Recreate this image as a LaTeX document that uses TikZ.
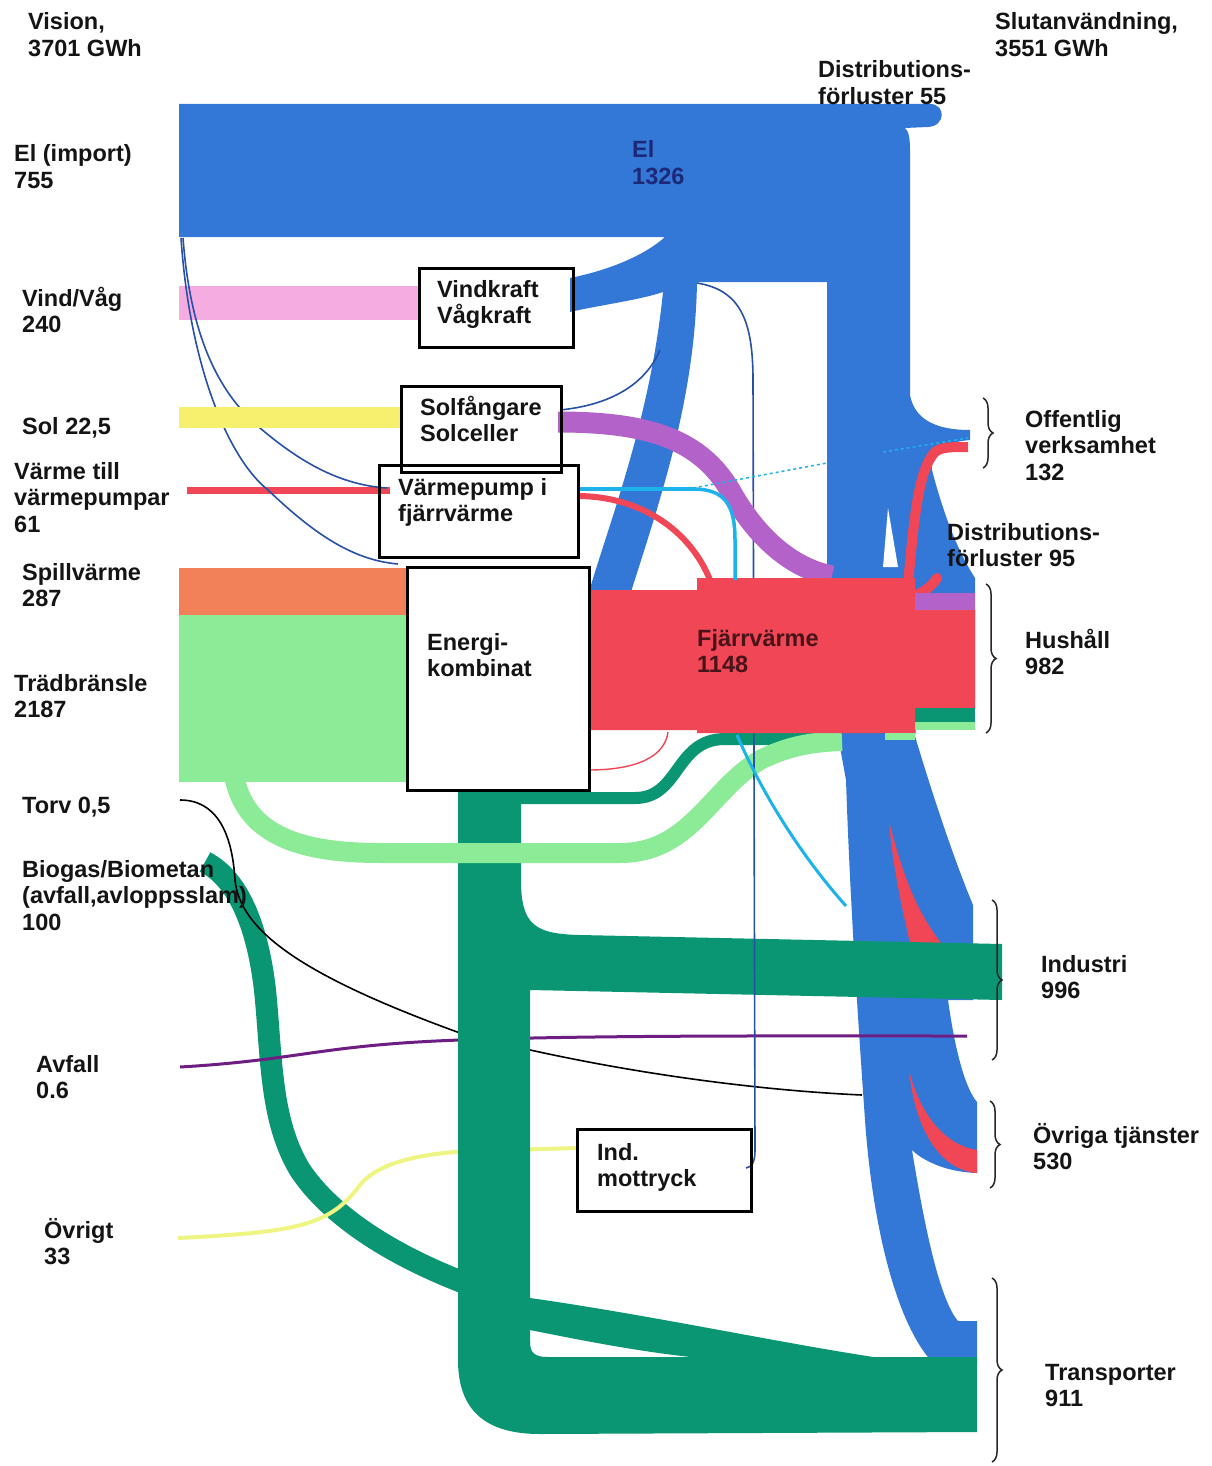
\documentclass[tikz,border=0pt]{standalone}
\usepackage{fontspec}
\setmainfont{Liberation Sans}
\usetikzlibrary{decorations.pathreplacing}

\definecolor{elblue}{RGB}{52,120,215}
\definecolor{pinkc}{RGB}{245,172,225}
\definecolor{yellowc}{RGB}{245,240,110}
\definecolor{orangec}{RGB}{242,128,88}
\definecolor{lgreen}{RGB}{140,235,150}
\definecolor{dgreen}{RGB}{10,150,115}
\definecolor{redc}{RGB}{240,70,85}
\definecolor{purplec}{RGB}{178,98,200}
\definecolor{cyanc}{RGB}{30,178,235}
\definecolor{darkline}{RGB}{40,80,165}
\definecolor{paleyellow}{RGB}{238,245,130}
\definecolor{avfallc}{RGB}{110,30,130}
\definecolor{eltext}{RGB}{30,40,120}
\definecolor{fjvtext}{RGB}{70,20,25}

% multi-line label whose baseline is the first line
\newcommand{\stack}[1]{\vtop{\baselineskip=26.5pt\halign{##\hfil\cr#1\crcr}}}

\tikzset{
  lbl/.style={anchor=base west, inner sep=0pt, font=\bfseries\fontsize{23.5}{26.5}\selectfont, text=black!92},
  boxn/.style={draw=black, line width=2.5pt, inner sep=0pt, anchor=north west},
  thinflow/.style={line width=1.6pt},
  curly/.style={decorate, decoration={brace, amplitude=10pt}, line width=1.5pt, black!85},
}

\begin{document}
\begin{tikzpicture}[x=1pt,y=-1pt]
\useasboundingbox (0,0) rectangle (1211,1466);
\fill[white] (0,0) rectangle (1211,1466);

% ---- source bars
\fill[pinkc] (179,286) rectangle (418,320);
\fill[orangec] (179,568) rectangle (406,615);
\fill[lgreen] (179,615) rectangle (406,782);
\draw[redc, line width=7pt] (187,490) -- (390,490);

% thin electricity lines from the import bar
\draw[darkline, thinflow] (183,238) .. controls (190,330) and (215,390) .. (260,428) .. controls (300,462) and (340,485) .. (387,488);
\draw[darkline, thinflow] (181,238) .. controls (190,370) and (230,460) .. (268,490) .. controls (310,530) and (350,560) .. (398,564);
\fill[yellowc] (179,407) rectangle (402,428);

% ---- electricity: import bar, trunk, wind inflow and branch to the CHP plant
\fill[elblue] (179,104) -- (930,104) .. controls (946,104) and (946,126) .. (928,127) -- (905,128)
  .. controls (909,131) and (910,140) .. (910,150) -- (910,395)
  .. controls (915,422) and (940,430) .. (970,430) -- (970,440)
  .. controls (945,442) and (930,452) .. (932,470)
  .. controls (945,520) and (960,555) .. (975,578) -- (975,700) -- (827,700) -- (827,282) -- (697,282)
  .. controls (695,400) and (660,500) .. (630,595) -- (588,595)
  .. controls (610,520) and (650,420) .. (663,292)
  .. controls (640,300) and (600,305) .. (570,312) -- (570,278)
  .. controls (610,270) and (645,255) .. (665,237) -- (179,237) -- cycle;
\fill[white] (888,508) -- (898,567) -- (883,567) -- cycle;

% lower trunk towards industry, services and transport
\fill[elblue] (838,700) -- (920,700) -- (915,736) .. controls (925,770) and (950,850) .. (973,905)
  -- (973,1000) -- (948,1000) .. controls (955,1050) and (965,1088) .. (977,1102) -- (977,1173)
  .. controls (945,1172) and (922,1160) .. (912,1150)
  .. controls (925,1230) and (940,1300) .. (958,1321) -- (977,1321) -- (977,1365) -- (935,1365)
  .. controls (895,1325) and (872,1220) .. (865,1120)
  .. controls (858,1020) and (850,900) .. (846,780) -- (838,736) -- cycle;

% district heat inside the electricity trunk
\fill[redc] (889,821) .. controls (905,885) and (920,915) .. (941,943) -- (910,943) .. controls (900,900) and (892,860) .. (889,821) -- cycle;
\fill[redc] (909,1070) .. controls (920,1115) and (945,1145) .. (977,1150) -- (977,1173) .. controls (940,1170) and (915,1130) .. (909,1070) -- cycle;

% ---- biogas band
\draw[dgreen, line width=22pt] (205,862) .. controls (240,880) and (258,930) .. (265,990) .. controls (272,1060) and (270,1120) .. (300,1170) .. controls (330,1215) and (390,1255) .. (470,1285);

% peat, waste and other
\draw[black, thinflow] (180,800) .. controls (215,800) and (232,830) .. (235,880) .. controls (240,930) and (300,975) .. (460,1033) .. controls (600,1070) and (750,1090) .. (862,1095);
\draw[avfallc, line width=3pt] (180,1067) .. controls (300,1060) and (320,1045) .. (460,1040) .. controls (600,1035) and (800,1036) .. (967,1036);
\draw[paleyellow, line width=4pt] (178,1238) .. controls (300,1232) and (330,1225) .. (360,1185) .. controls (380,1160) and (430,1153) .. (470,1151) -- (576,1148);

% ---- fuels: trunk with industry and transport arms
\fill[dgreen] (458,790) -- (521,790) -- (521,880) .. controls (521,925) and (535,934) .. (580,935)
  -- (1002,944) -- (1002,1000) -- (530,990) -- (530,1357) -- (977,1357) -- (977,1432) -- (540,1434)
  .. controls (485,1434) and (458,1410) .. (458,1360) -- cycle;
\fill[dgreen] (530,1298) .. controls (650,1315) and (780,1343) .. (880,1358) -- (700,1358) .. controls (640,1352) and (580,1340) .. (530,1330) -- cycle;
\fill[dgreen] (530,1342) .. controls (530,1353) and (535,1357) .. (548,1357) -- (530,1357) -- cycle;
\draw[dgreen, line width=12pt] (515,798) -- (635,798) .. controls (680,798) and (675,739) .. (725,739) -- (842,739);

% wood fuel directly to end use
\draw[lgreen, line width=20pt] (234,776) .. controls (245,830) and (290,853) .. (380,853) -- (620,853) .. controls (690,853) and (710,790) .. (760,760) .. controls (790,745) and (815,742) .. (842,741);

% back-pressure line
\draw[darkline, thinflow] (697,283) .. controls (740,290) and (753,320) .. (753,380) -- (755,1150) .. controls (755,1162) and (752,1167) .. (746,1168);

% ---- solar heat
\draw[purplec, line width=21pt] (558,422) .. controls (650,422) and (700,440) .. (730,490) .. controls (755,535) and (790,568) .. (832,576);

% ---- district heating
\fill[redc] (588,590) -- (697,590) -- (697,578) -- (915,578) -- (915,610) -- (975,610) -- (975,708) -- (915,708) -- (915,733) -- (697,733) -- (697,730) -- (588,730) -- cycle;
\draw[redc, line width=10pt] (908,584) .. controls (914,520) and (918,470) .. (935,452) .. controls (942,447) and (950,447) .. (968,447);
\draw[redc, line width=10pt, line cap=round] (914,596) .. controls (924,592) and (932,586) .. (937,578);
\draw[redc, line width=6pt] (577,496) .. controls (640,496) and (690,530) .. (710,580);
\draw[redc, line width=1.4pt] (588,770) .. controls (640,770) and (665,755) .. (668,732);

% household end stubs
\fill[purplec] (915,593) rectangle (975,610);
\fill[dgreen] (915,708) rectangle (975,722);
\fill[lgreen] (915,722) rectangle (975,730);
\fill[lgreen] (885,733) rectangle (915,740);

% heat pump outputs
\draw[cyanc, line width=4pt] (577,489) -- (693,489);
\draw[cyanc, line width=1.5pt, dashed] (693,488) -- (827,463);
\draw[cyanc, line width=1.5pt, dashed] (883,452) -- (968,438);
\draw[cyanc, line width=3.5pt] (693,489) .. controls (725,489) and (735,505) .. (735,540) -- (735,580);
\draw[cyanc, line width=3pt] (737,735) .. controls (765,800) and (805,860) .. (846,906);

% electricity to solar plant
\draw[darkline, thinflow] (560,410) .. controls (610,405) and (645,385) .. (660,350);

% ---- conversion boxes
\node[boxn, minimum width=154pt, minimum height=79pt] (vind) at (418,267) {};
\node[boxn, minimum width=160pt, minimum height=86pt] (sol) at (400,385) {};
\node[boxn, minimum width=199pt, minimum height=92pt] (vp) at (378,464) {};
\node[boxn, minimum width=182pt, minimum height=223pt] (ek) at (406,566) {};
\node[boxn, minimum width=174pt, minimum height=82pt] (ind) at (576,1128) {};

\node[lbl] (tvind) at (437,297) {\stack{Vindkraft\cr Vågkraft}};
\node[lbl] (tsol) at (420,415) {\stack{Solfångare\cr Solceller}};
\node[lbl] (tvp) at (398,495) {\stack{Värmepump i\cr fjärrvärme}};
\node[lbl] (tek) at (427,650) {\stack{Energi-\cr kombinat}};
\node[lbl] (tind) at (597,1160) {\stack{Ind.\cr mottryck}};

% ---- flow labels
\node[lbl, text=eltext] (tel) at (632,158) {\stack{El\cr 1326}};
\node[lbl, text=fjvtext] (tfjv) at (697,646) {\stack{Fjärrvärme\cr 1148}};

% ---- source labels
\node[lbl] (lvision) at (28,30) {\stack{Vision,\cr 3701 GWh}};
\node[lbl] (lel) at (14,162) {\stack{El (import)\cr 755}};
\node[lbl] (lvind) at (22,306) {\stack{Vind/Våg\cr 240}};
\node[lbl] (lsol) at (22,434) {Sol 22,5};
\node[lbl] (lvarme) at (14,479) {\stack{Värme till\cr värmepumpar\cr 61}};
\node[lbl] (lspill) at (22,580) {\stack{Spillvärme\cr 287}};
\node[lbl] (ltrad) at (14,691) {\stack{Trädbränsle\cr 2187}};
\node[lbl] (ltorv) at (22,813) {Torv 0,5};
\node[lbl] (lbio) at (22,877) {\stack{Biogas/Biometan\cr (avfall,avloppsslam)\cr 100}};
\node[lbl] (lavf) at (36,1072) {\stack{Avfall\cr 0.6}};
\node[lbl] (lovr) at (44,1238) {\stack{Övrigt\cr 33}};

% ---- end-use labels
\node[lbl] (lslut) at (995,30) {\stack{Slutanvändning,\cr 3551 GWh}};
\node[lbl] (lloss1) at (818,78) {\stack{Distributions-\cr förluster 55}};
\node[lbl] (loff) at (1025,427) {\stack{Offentlig\cr verksamhet\cr 132}};
\node[lbl] (lloss2) at (947,540) {\stack{Distributions-\cr förluster 95}};
\node[lbl] (lhus) at (1025,648) {\stack{Hushåll\cr 982}};
\node[lbl] (lindu) at (1041,972) {\stack{Industri\cr 996}};
\node[lbl] (ltjan) at (1033,1143) {\stack{Övriga tjänster\cr 530}};
\node[lbl] (ltrans) at (1045,1380) {\stack{Transporter\cr 911}};

% ---- braces
\draw[curly] (983,398) -- (983,468);
\draw[curly] (986,584) -- (986,733);
\draw[curly] (992,900) -- (992,1060);
\draw[curly] (990,1101) -- (990,1188);
\draw[curly] (992,1278) -- (992,1462);
\end{tikzpicture}
\end{document}
